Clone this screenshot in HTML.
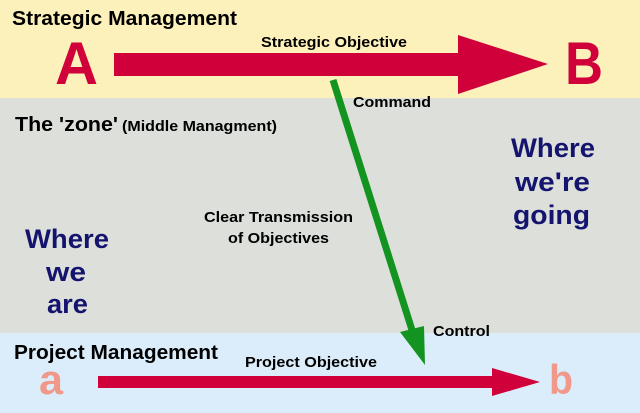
<!DOCTYPE html>
<html><head><meta charset="utf-8"><style>
html,body{margin:0;padding:0;width:640px;height:413px;overflow:hidden;background:#fdf1bb}
svg{display:block}
text{font-family:"Liberation Sans",sans-serif;font-weight:bold}
</style></head><body>
<svg width="640" height="413" viewBox="0 0 640 413" xmlns="http://www.w3.org/2000/svg">
<rect x="0" y="0" width="640" height="98" fill="#fdf1bb"/>
<rect x="0" y="98" width="640" height="235" fill="#dcdfda"/>
<rect x="0" y="333" width="640" height="80" fill="#dbedfa"/>
<polygon points="114,53 458,53 458,35 548,64 458,94 458,76 114,76" fill="#d0003a"/>
<polygon points="98,376 492,376 492,368 540,382 492,396 492,388 98,388" fill="#d0003a"/>
<line x1="333" y1="80" x2="412" y2="330" stroke="#13931f" stroke-width="7"/>
<polygon points="400,332 424,326 425,365" fill="#13931f"/>
<text x="12" y="25" font-size="20" fill="#000" textLength="225" lengthAdjust="spacingAndGlyphs">Strategic Management</text>
<text x="261" y="47" font-size="15" fill="#000" textLength="146" lengthAdjust="spacingAndGlyphs">Strategic Objective</text>
<text x="55" y="84" font-size="60" fill="#d0003a" textLength="43" lengthAdjust="spacingAndGlyphs">A</text>
<text x="565" y="84" font-size="60" fill="#d0003a" textLength="38" lengthAdjust="spacingAndGlyphs">B</text>
<text x="353" y="107" font-size="15" fill="#000" textLength="78" lengthAdjust="spacingAndGlyphs">Command</text>
<text x="15" y="131" font-size="20" fill="#000" textLength="103" lengthAdjust="spacingAndGlyphs">The 'zone'</text>
<text x="122" y="131" font-size="15" fill="#000" textLength="155" lengthAdjust="spacingAndGlyphs">(Middle Managment)</text>
<g font-size="27" fill="#14146e">
<text x="511" y="157" textLength="84" lengthAdjust="spacingAndGlyphs">Where</text>
<text x="515" y="191" textLength="75" lengthAdjust="spacingAndGlyphs">we're</text>
<text x="513" y="224" textLength="77" lengthAdjust="spacingAndGlyphs">going</text>
<text x="25" y="248" textLength="84" lengthAdjust="spacingAndGlyphs">Where</text>
<text x="46" y="281" textLength="40" lengthAdjust="spacingAndGlyphs">we</text>
<text x="47" y="313" textLength="41" lengthAdjust="spacingAndGlyphs">are</text>
</g>
<text x="204" y="222" font-size="15" fill="#000" textLength="149" lengthAdjust="spacingAndGlyphs">Clear Transmission</text>
<text x="228" y="243" font-size="15" fill="#000" textLength="101" lengthAdjust="spacingAndGlyphs">of Objectives</text>
<text x="433" y="336" font-size="15" fill="#000" textLength="57" lengthAdjust="spacingAndGlyphs">Control</text>
<text x="14" y="359" font-size="20" fill="#000" textLength="204" lengthAdjust="spacingAndGlyphs">Project Management</text>
<text x="245" y="367" font-size="15" fill="#000" textLength="132" lengthAdjust="spacingAndGlyphs">Project Objective</text>
<text x="39" y="394" font-size="42" fill="#f0998a" textLength="24" lengthAdjust="spacingAndGlyphs">a</text>
<text x="549" y="394" font-size="42" fill="#f0998a" textLength="24" lengthAdjust="spacingAndGlyphs">b</text>
</svg>
</body></html>
